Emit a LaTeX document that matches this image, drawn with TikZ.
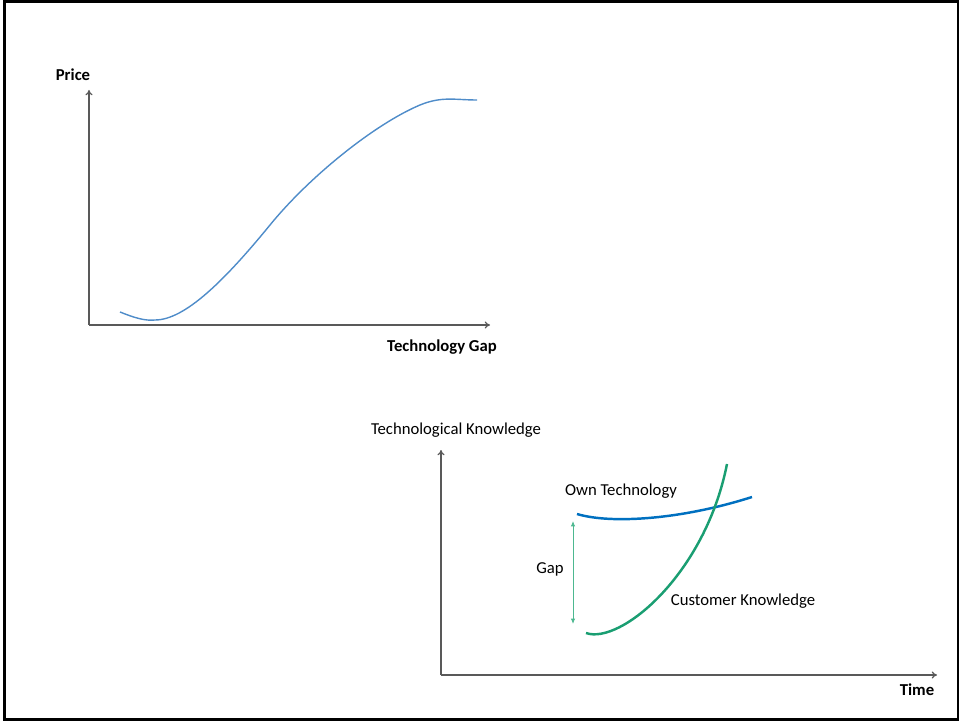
\documentclass[tikz,border=0pt]{standalone}
\usepackage{fontspec}
\setmainfont{Carlito}
\usepackage{xcolor}
\usetikzlibrary{arrows.meta}

\definecolor{axisgray}{HTML}{595959}
\definecolor{priceblue}{HTML}{4F8CC9}
\definecolor{ownblue}{HTML}{0070C0}
\definecolor{custgreen}{HTML}{1A9E72}
\definecolor{gapgreen}{HTML}{4DB890}

\tikzset{
  axis/.style={draw=axisgray, line width=0.7pt, -{To[length=3pt,width=4pt]}},
  lbl/.style={inner sep=0pt, font=\fontsize{9.5}{11}\selectfont},
  boldlbl/.style={lbl, font=\fontsize{9.5}{11}\selectfont\bfseries}
}

\begin{document}
\begin{tikzpicture}[x=0.02cm, y=-0.02cm]
\useasboundingbox (0,0) rectangle (959,722);
\draw[line width=1.7pt] (4.5,1.5) rectangle (958.5,719.5);

% price chart
\coordinate (po) at (89,325);
\coordinate (py) at (89,90);
\coordinate (px) at (490,325);
\draw[axis] (po) -- (py);
\draw[axis] (po) -- (px);
\node[boldlbl] (price) at (73,75) {Price};
\node[boldlbl] (techgap) at (442,347) {Technology Gap};
\draw[priceblue, line width=0.8pt] (120,312)
  .. controls (135,318) and (145,321) .. (155,320)
  .. controls (185,320) and (225,280) .. (270,225)
  .. controls (310,176) and (375,124) .. (420,105)
  .. controls (442,96) and (455,100) .. (477,100);

% knowledge chart
\coordinate (ko) at (441,675);
\coordinate (ky) at (441,450);
\coordinate (kx) at (937,675);
\draw[axis] (ko) -- (ky);
\draw[axis] (ko) -- (kx);
\node[lbl] (knowledge) at (456,430) {Technological Knowledge};
\node[boldlbl] (time) at (917,690) {Time};

\draw[ownblue, line width=1.4pt] (577,514) .. controls (610,524) and (680,520) .. (752,497);
\node[lbl] (owntech) at (621,491) {Own Technology};

\draw[custgreen, line width=1.4pt] (586,633) .. controls (620,645) and (705,575) .. (727,464);
\node[lbl] (customer) at (743,601) {Customer Knowledge};

\coordinate (gaptop) at (573,521);
\coordinate (gapbot) at (573,624);
\draw[gapgreen, line width=0.5pt, {Latex[length=3pt,width=2.5pt]}-{Latex[length=3pt,width=2.5pt]}] (gaptop) -- (gapbot);
\node[lbl] (gap) at (550,569) {Gap};
\end{tikzpicture}
\end{document}
